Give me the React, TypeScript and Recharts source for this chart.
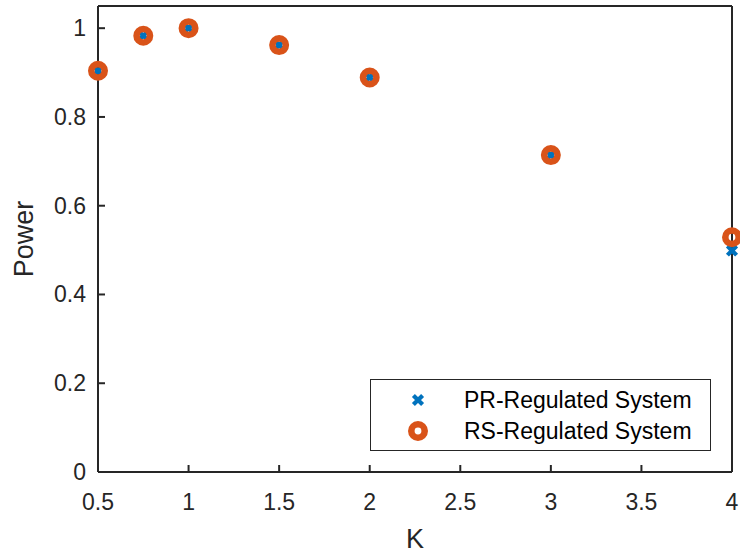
import { Legend, Scatter, ScatterChart, XAxis, YAxis } from "recharts";

// K values and measured normalised power for both systems
const kValues = [0.5, 0.75, 1, 1.5, 2, 3, 4];
const prPower = [0.904, 0.983, 1.0, 0.962, 0.889, 0.714, 0.499];
const rsPower = [0.904, 0.983, 1.0, 0.962, 0.889, 0.714, 0.529];

const xTicks = [0.5, 1, 1.5, 2, 2.5, 3, 3.5, 4];
const yTicks = [0, 0.2, 0.4, 0.6, 0.8, 1];

const seriesNames = ["PR-Regulated System", "RS-Regulated System"];

const BLUE = "#0072BD";
const ORANGE = "#D95319";
const AXIS = "#262626";
const FONT = "'Liberation Sans', Arial, Helvetica, sans-serif";

const prData = kValues.map((k, i) => ({ k, power: prPower[i] }));
const rsData = kValues.map((k, i) => ({ k, power: rsPower[i] }));

const TICK_LEN = 7;

function CrossMark({ cx, cy }: any) {
    const a = 4.6;
    return (
        <path
            d={`M${cx - a},${cy - a}L${cx + a},${cy + a}M${cx - a},${cy + a}L${cx + a},${cy - a}`}
            stroke={BLUE}
            strokeWidth={4.2}
            fill="none"
        />
    );
}

function RingMark({ cx, cy }: any) {
    return <circle cx={cx} cy={cy} r={6.7} fill="none" stroke={ORANGE} strokeWidth={6.6} />;
}

const BottomTick = ({ x, y, payload }: any) => (
    <g>
        <line x1={x} y1={y} x2={x} y2={y - TICK_LEN} stroke={AXIS} strokeWidth={2} />
        <text x={x} y={y + 38} textAnchor="middle" fontSize={23} fill={AXIS} fontFamily={FONT}>
            {payload.value}
        </text>
    </g>
);

const LeftTick = ({ x, y, payload }: any) => (
    <g>
        <line x1={x} y1={y} x2={x + TICK_LEN} y2={y} stroke={AXIS} strokeWidth={2} />
        <text x={x - 12} y={y + 8} textAnchor="end" fontSize={23} fill={AXIS} fontFamily={FONT}>
            {payload.value}
        </text>
    </g>
);

const TopTick = ({ x, y }: any) => (
    <line x1={x} y1={y} x2={x} y2={y + TICK_LEN} stroke={AXIS} strokeWidth={2} />
);

const RightTick = ({ x, y }: any) => (
    <line x1={x} y1={y} x2={x - TICK_LEN} y2={y} stroke={AXIS} strokeWidth={2} />
);

function LegendBox() {
    return (
        <svg width={341} height={72} style={{ display: "block" }}>
            <rect x={0.5} y={0.5} width={340} height={71} fill="#fff" stroke={AXIS} strokeWidth={1} />
            <CrossMark cx={48} cy={21} />
            <text x={94} y={29} fontSize={23} fill="#000" fontFamily={FONT}>
                {seriesNames[0]}
            </text>
            <RingMark cx={48} cy={52} />
            <text x={94} y={60} fontSize={23} fill="#000" fontFamily={FONT}>
                {seriesNames[1]}
            </text>
        </svg>
    );
}

export default function App() {
    return (
        <div style={{ position: "absolute", left: 0, top: 0, background: "#fff" }}>
            <ScatterChart
                width={740}
                height={554}
                margin={{ top: 5, right: 7, left: 97, bottom: 81 }}
            >
                <XAxis
                    xAxisId="main"
                    type="number"
                    dataKey="k"
                    domain={[0.5, 4]}
                    ticks={xTicks}
                    height={1}
                    tickSize={0}
                    tickMargin={0}
                    tickLine={false}
                    axisLine={{ stroke: AXIS, strokeWidth: 2 }}
                    tick={<BottomTick />}
                    interval={0}
                    label={{
                        content: ({ viewBox }: any) => (
                            <text
                                x={viewBox.x + viewBox.width / 2}
                                y={viewBox.y + 76}
                                textAnchor="middle"
                                fontSize={27}
                                fill={AXIS}
                                fontFamily={FONT}
                            >
                                K
                            </text>
                        ),
                    }}
                />
                <XAxis
                    xAxisId="top"
                    orientation="top"
                    type="number"
                    domain={[0.5, 4]}
                    ticks={xTicks}
                    height={1}
                    tickSize={0}
                    tickMargin={0}
                    tickLine={false}
                    axisLine={{ stroke: AXIS, strokeWidth: 2 }}
                    tick={<TopTick />}
                    interval={0}
                />
                <YAxis
                    yAxisId="main"
                    type="number"
                    dataKey="power"
                    domain={[0, 1.05]}
                    ticks={yTicks}
                    width={1}
                    tickSize={0}
                    tickMargin={0}
                    tickLine={false}
                    axisLine={{ stroke: AXIS, strokeWidth: 2 }}
                    tick={<LeftTick />}
                    interval={0}
                    label={{
                        content: ({ viewBox }: any) => {
                            const cy = viewBox.y + viewBox.height / 2;
                            return (
                                <text
                                    x={33}
                                    y={cy}
                                    transform={`rotate(-90, 33, ${cy})`}
                                    textAnchor="middle"
                                    fontSize={27}
                                    fill={AXIS}
                                    fontFamily={FONT}
                                >
                                    Power
                                </text>
                            );
                        },
                    }}
                />
                <YAxis
                    yAxisId="right"
                    orientation="right"
                    type="number"
                    domain={[0, 1.05]}
                    ticks={yTicks}
                    width={1}
                    tickSize={0}
                    tickMargin={0}
                    tickLine={false}
                    axisLine={{ stroke: AXIS, strokeWidth: 2 }}
                    tick={<RightTick />}
                    interval={0}
                />
                <Scatter
                    name={seriesNames[0]}
                    data={prData}
                    xAxisId="main"
                    yAxisId="main"
                    shape={(p: any) => <CrossMark cx={p.cx} cy={p.cy} />}
                    isAnimationActive={false}
                />
                <Scatter
                    name={seriesNames[1]}
                    data={rsData}
                    xAxisId="main"
                    yAxisId="main"
                    shape={(p: any) => <RingMark cx={p.cx} cy={p.cy} />}
                    isAnimationActive={false}
                />
                <Legend
                    layout="horizontal"
                    verticalAlign="middle"
                    align="center"
                    content={() => <LegendBox />}
                    wrapperStyle={{ position: "absolute", left: 370, top: 379, width: 341, height: 72 }}
                />
            </ScatterChart>
        </div>
    );
}
